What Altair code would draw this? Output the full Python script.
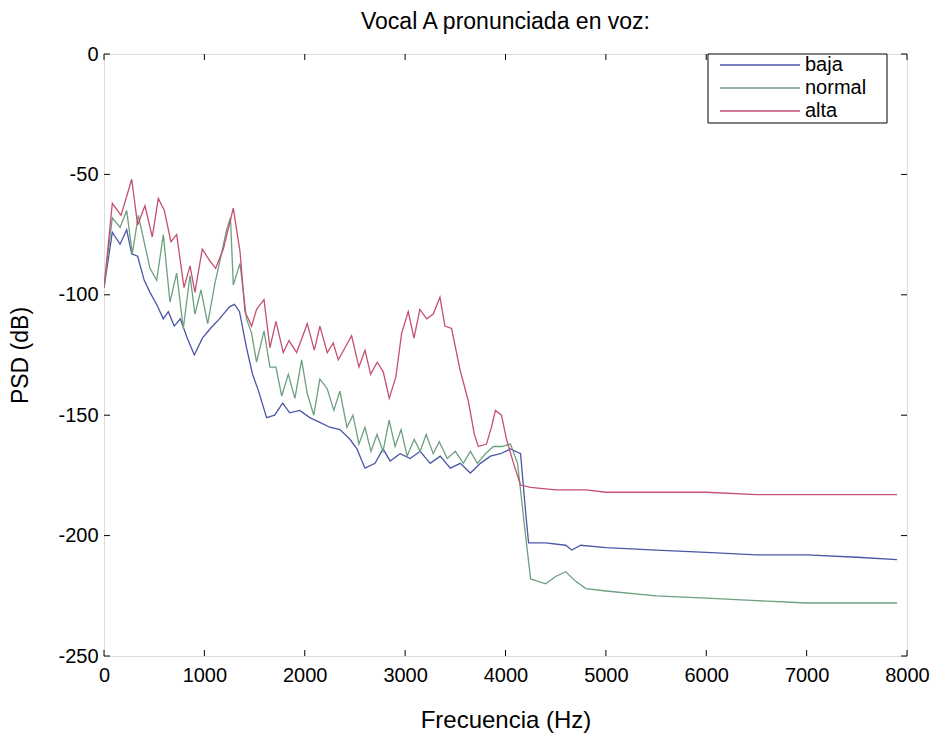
import altair as alt
import pandas as pd

# ---------------- data ----------------
series_names = ["baja", "normal", "alta"]
series_colors = ["#4a56a6", "#6e9f80", "#c54f6e"]

freq_baja = [0, 83, 160, 226, 276, 335, 401, 458, 525, 591, 641, 700, 760, 830, 900, 980,
             1060, 1150, 1250, 1300, 1350, 1420, 1480, 1540, 1620, 1700, 1780, 1850, 1950,
             2050, 2150, 2250, 2350, 2450, 2520, 2600, 2700, 2780, 2850, 2950, 3050, 3150,
             3250, 3350, 3450, 3550, 3650, 3750, 3850, 3950, 4050, 4150, 4200, 4230, 4400,
             4600, 4660, 4750, 5000, 5500, 6000, 6500, 7000, 7500, 7900]
psd_baja = [-97, -74, -79, -73, -83, -84, -94, -99, -104, -110, -107, -113, -110, -118, -125,
            -118, -114, -110, -105, -104, -107, -122, -133, -140, -151, -150, -145, -149, -148,
            -151, -153, -155, -156, -160, -164, -172, -170, -164, -169, -166, -168, -165,
            -170, -167, -172, -170, -174, -170, -167, -166, -164, -166, -190, -203, -203,
            -204, -206, -204, -205, -206, -207, -208, -208, -209, -210]

freq_normal = [0, 83, 160, 226, 282, 342, 400, 458, 525, 591, 657, 724, 790, 857, 906, 966,
               1033, 1106, 1165, 1222, 1260, 1288, 1355, 1420, 1471, 1520, 1594, 1653, 1713,
               1770, 1836, 1902, 1969, 2025, 2090, 2150, 2224, 2290, 2350, 2420, 2480, 2540,
               2600, 2660, 2720, 2780, 2840, 2900, 2960, 3020, 3090, 3150, 3210, 3280, 3340,
               3420, 3500, 3580, 3650, 3720, 3800, 3880, 3960, 4050, 4120, 4200, 4250, 4400,
               4500, 4600, 4700, 4800, 5000, 5500, 6000, 6500, 7000, 7500, 7900]
psd_normal = [-97, -68, -72, -65, -83, -67, -78, -89, -94, -75, -103, -91, -114, -92, -108,
              -98, -112, -95, -84, -73, -68, -96, -87, -110, -116, -128, -115, -130, -130,
              -142, -133, -143, -127, -141, -150, -135, -139, -148, -140, -155, -150, -162,
              -155, -165, -158, -165, -152, -163, -156, -167, -160, -165, -158, -166, -161,
              -168, -165, -170, -165, -170, -166, -163, -163, -162, -170, -200, -218, -220,
              -217, -215, -219, -222, -223, -225, -226, -227, -228, -228, -228]

freq_alta = [0, 83, 170, 276, 335, 408, 481, 541, 601, 667, 724, 797, 857, 906, 979, 1056,
             1112, 1189, 1288, 1355, 1404, 1471, 1520, 1594, 1653, 1713, 1786, 1843, 1919,
             2025, 2095, 2151, 2224, 2284, 2334, 2467, 2540, 2600, 2656, 2722, 2782, 2842,
             2908, 2965, 3031, 3088, 3147, 3214, 3280, 3347, 3396, 3463, 3546, 3629, 3690,
             3730, 3810, 3860, 3900, 3960, 4010, 4080, 4150, 4250, 4500, 4800, 5000, 5500,
             6000, 6500, 7000, 7500, 7900]
psd_alta = [-97, -62, -67, -52, -71, -63, -76, -60, -65, -78, -75, -97, -88, -99, -81, -86,
            -89, -81, -64, -82, -107, -113, -106, -102, -122, -111, -124, -119, -124, -112,
            -123, -113, -124, -120, -127, -117, -130, -123, -133, -128, -132, -143, -134,
            -116, -107, -118, -106, -110, -108, -101, -113, -114, -131, -144, -158, -163,
            -162, -155, -148, -150, -160, -170, -179, -180, -181, -181, -182, -182, -182,
            -183, -183, -183, -183]

x_ticks = [0, 1000, 2000, 3000, 4000, 5000, 6000, 7000, 8000]
y_ticks = [-250, -200, -150, -100, -50, 0]

title_text = "Vocal A pronunciada en voz:"
x_title = "Frecuencia (Hz)"
y_title = "PSD (dB)"

# ---------------- tables ----------------
rows = []
for name, fr, ps in [("baja", freq_baja, psd_baja),
                     ("normal", freq_normal, psd_normal),
                     ("alta", freq_alta, psd_alta)]:
    for f, p in zip(fr, ps):
        rows.append({"serie": name, "freq": f, "psd": p})
df = pd.DataFrame(rows)
xt = pd.DataFrame({"freq": x_ticks})
yt = pd.DataFrame({"psd": y_ticks})

W, H = 803, 602
FONT = "Liberation Sans"
TICK = 6
LAB = 20
TIT = 24

xs = alt.Scale(domain=[0, 8000], nice=False, zero=False)
ys = alt.Scale(domain=[-250, 0], nice=False, zero=False)

x_axis = alt.Axis(values=x_ticks, title=x_title, grid=False, domain=False, ticks=False,
                  labelExpr="'' + datum.value",
                  labelPadding=9, labelFontSize=LAB, labelFont=FONT, labelColor="black",
                  titleFont=FONT, titleFontSize=TIT, titleFontWeight="normal", titleColor="black",
                  titleY=64, titleBaseline="middle", labelFlush=False, labelOverlap=False)
y_axis = alt.Axis(values=y_ticks, title=y_title, grid=False, domain=False, ticks=False,
                  labelExpr="'' + datum.value",
                  labelPadding=6, labelFontSize=LAB, labelFont=FONT, labelColor="black",
                  titleFont=FONT, titleFontSize=TIT - 1, titleFontWeight="normal", titleColor="black",
                  titleX=-84, titleBaseline="middle", labelFlush=False, labelOverlap=False)

X = alt.X("freq:Q", scale=xs, axis=x_axis)
Y = alt.Y("psd:Q", scale=ys, axis=y_axis)

lines = alt.Chart(df).mark_line(strokeWidth=1.3, clip=True).encode(
    x=X, y=Y,
    color=alt.Color("serie:N", scale=alt.Scale(domain=series_names, range=series_colors),
                    legend=None),
    detail="serie:N",
)

tick_b = alt.Chart(xt).mark_rule(color="black", strokeWidth=1).encode(
    x=X, y=alt.value(H), y2=alt.value(H - TICK))
tick_t = alt.Chart(xt).mark_rule(color="black", strokeWidth=1).encode(
    x=X, y=alt.value(0), y2=alt.value(TICK))
tick_l = alt.Chart(yt).mark_rule(color="black", strokeWidth=1).encode(
    y=Y, x=alt.value(0), x2=alt.value(TICK))
tick_r = alt.Chart(yt).mark_rule(color="black", strokeWidth=1).encode(
    y=Y, x=alt.value(W), x2=alt.value(W - TICK))

# legend box (inside top-right of the axes)
LX0, LX1, LY0, LY1 = 604, 783, 0, 69
leg_box = alt.Chart(pd.DataFrame({"a": [0]})).mark_rect(
    fill="white", stroke="black", strokeWidth=1).encode(
    x=alt.value(LX0), x2=alt.value(LX1), y=alt.value(LY0), y2=alt.value(LY1))

leg_layers = []
for i, (name, col) in enumerate(zip(series_names, series_colors)):
    yy = 11 + 23 * i
    d = pd.DataFrame({"serie": [name]})
    leg_layers.append(alt.Chart(d).mark_rule(color=col, strokeWidth=1.3).encode(
        x=alt.value(LX0 + 12), x2=alt.value(LX0 + 92), y=alt.value(yy)))
    leg_layers.append(alt.Chart(d).mark_text(
        align="left", baseline="middle", fontSize=LAB, font=FONT, color="black").encode(
        x=alt.value(LX0 + 97), y=alt.value(yy), text="serie:N"))

chart = alt.layer(lines, tick_b, tick_t, tick_l, tick_r, leg_box, *leg_layers).properties(
    width=W, height=H,
    title=alt.TitleParams(title_text, font=FONT, fontSize=TIT - 1, fontWeight="normal",
                          color="black", anchor="middle", offset=10),
    autosize=alt.AutoSizeParams(type="none"),
    padding={"left": 104, "top": 54, "right": 24, "bottom": 87},
).configure_view(stroke="black", strokeWidth=1).configure(background="white")

chart.save("out.html", embed_options={"renderer": "svg", "actions": False})
